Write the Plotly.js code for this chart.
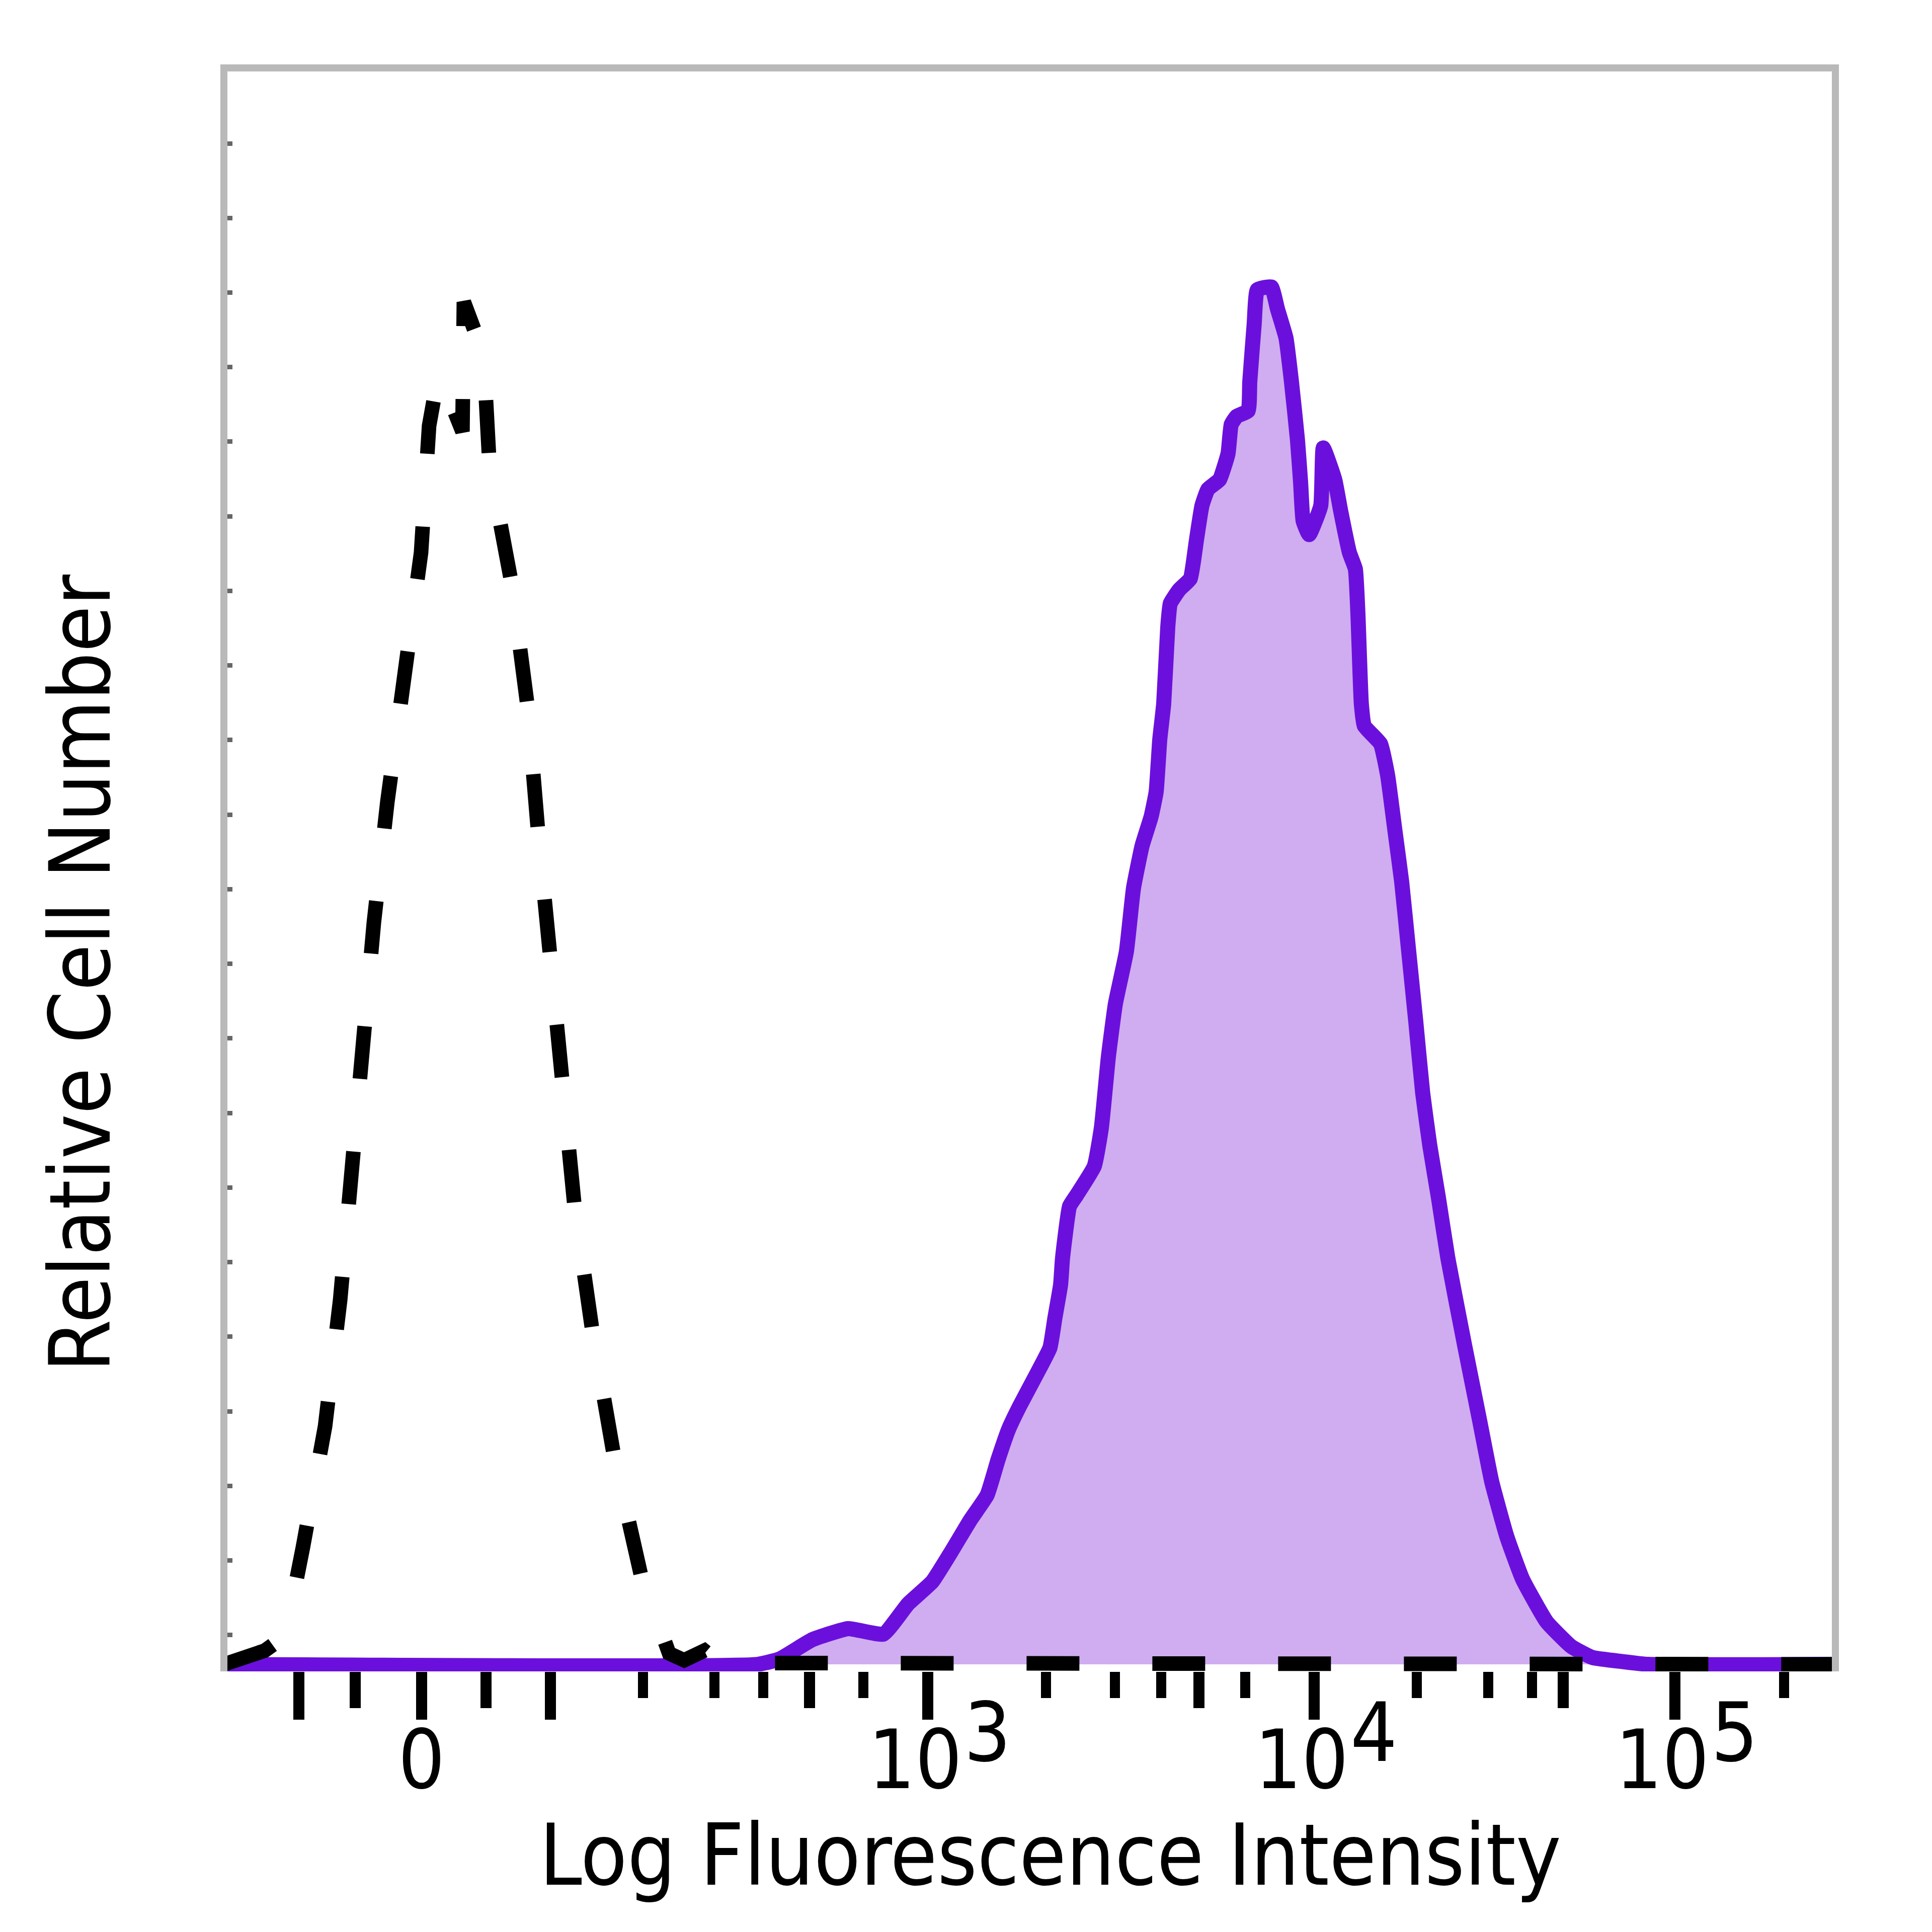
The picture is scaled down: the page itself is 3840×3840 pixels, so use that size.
<!DOCTYPE html>
<html>
<head>
<meta charset="utf-8">
<script src="https://cdn.plot.ly/plotly-3.0.1.min.js"></script>
<style>html,body{margin:0;padding:0;background:#fff;}#chart{width:3840px;height:3840px;}</style>
</head>
<body>
<div id="chart"></div>
<script>
// Display channels (0-1024) of the biexponential fluorescence scale
const isoX = [0, 16.0, 26.0, 34.5, 45.7, 50.2, 64.3, 73.9, 80.6, 87.9, 95.3, 103.9, 115.1, 125.3, 130.4, 136.5, 151.6, 152.5, 165.0, 168.8, 182.9, 193.1, 199.8, 208.1, 215.8, 222.8, 234.3, 247.8, 265.0, 282.9, 292.5, 300.5, 305.3, 314.9, 1024];
const isoY = [0, 0.6, 1.0, 1.7, 5.9, 8.5, 17.3, 26.5, 35.6, 44.8, 53.9, 62.7, 71.7, 80.8, 90.0, 93.9, 89.6, 99.0, 95.2, 87.1, 78.5, 69.5, 60.3, 51.4, 42.4, 33.3, 24.1, 15.2, 6.5, 0.8, 0.3, 0.7, 1.0, 0.1, 0];

const stainX = [0, 339.2, 353.3, 374.0, 396.7, 419.1, 434.8, 450.1, 462.3, 474.4, 485.0, 492.0, 498.7, 505.8, 516.0, 524.9, 528.1, 531.7, 532.9, 537.4, 541.9, 553.1, 557.6, 562.0, 566.5, 573.5, 578.0, 583.5, 589.2, 592.4, 594.7, 597.2, 599.8, 601.4, 607.1, 614.1, 618.0, 621.5, 625.3, 632.7, 638.1, 640.1, 643.6, 650.9, 651.9, 654.7, 656.7, 665.6, 669.5, 674.9, 678.4, 682.2, 684.2, 685.8, 689.6, 697.0, 698.6, 705.9, 709.7, 715.2, 719.0, 720.6, 722.8, 724.7, 735.0, 739.5, 743.9, 748.4, 752.9, 757.4, 761.8, 766.3, 771.8, 777.8, 788.4, 798.0, 805.6, 815.2, 825.2, 840.5, 856.2, 869.6, 889.1, 905, 1024];
const stainY = [0, 0, 0.4, 1.8, 2.6, 2.2, 4.4, 6.0, 8.2, 10.5, 12.3, 14.9, 17.1, 18.8, 21.0, 23.0, 25.2, 27.6, 29.5, 33.3, 34.1, 36.2, 39.0, 44.1, 48.0, 51.8, 56.4, 59.5, 61.6, 63.4, 67.2, 69.8, 75.4, 77.1, 78.1, 78.9, 81.7, 84.2, 85.4, 86.1, 88.0, 90.1, 90.7, 91.1, 93.2, 97.4, 99.9, 100.1, 98.5, 96.4, 93.2, 89.0, 85.9, 83.1, 82.1, 84.2, 88.4, 86.1, 83.8, 80.8, 79.6, 76.4, 69.8, 68.2, 66.9, 64.6, 60.8, 56.9, 51.8, 46.7, 41.5, 37.7, 33.9, 29.5, 23.2, 17.7, 13.3, 9.3, 6.2, 3.1, 1.3, 0.5, 0.2, 0, 0];

// Axis ticks (channel positions) and labels
const zeroTick = [125.6];
const zeroLabel = ['0'];
const decadeTicks = [447.3, 692.8, 922.0];
const decadeBase = ['10', '10', '10'];
const decadeExponents = ['3', '4', '5'];
const longTicks = [47.6, 207.5];
const mediumTicks = [83.4, 166.6, 372.1, 619.6, 851.0];
const minorTicks = [266.3, 311.7, 342.7, 406.3, 522.4, 566.2, 595.6, 649.0, 758.0, 803.4, 831.2, 991.4];

const xTitle = 'Log Fluorescence Intensity';
const yTitle = 'Relative Cell Number';

const FONT = '"DejaVu Sans Condensed", "DejaVu Sans", sans-serif';
const XRANGE = [2.24, 1021.8];
const TICKFONT = {family: FONT, size: 163, color: '#000'};

const traces = [
  {
    x: stainX, y: stainY, type: 'scatter', mode: 'lines',
    fill: 'tozeroy', fillcolor: '#CFADF0',
    line: {color: '#6B10DC', width: 30, shape: 'spline', smoothing: 0.4},
    hoverinfo: 'skip', showlegend: false
  },
  {
    x: isoX, y: isoY, type: 'scatter', mode: 'lines',
    line: {color: '#000000', width: 29, dash: '105px,145px', shape: 'linear'},
    hoverinfo: 'skip', showlegend: false
  }
];
// empty traces that attach the frame-top axis and the extra tick axes
['x2', 'x3', 'x4', 'x5'].forEach(ax => traces.push({x: [], y: [], type: 'scatter', mode: 'lines', xaxis: ax, yaxis: 'y', hoverinfo: 'skip', showlegend: false}));

// superscript exponents of the decade labels, placed at the decade ticks
const exponentNotes = decadeTicks.map((v, i) => ({
  text: decadeExponents[i], xref: 'x', x: v, yref: 'paper', y: 0,
  xanchor: 'left', yanchor: 'top', xshift: 70, yshift: -25,
  showarrow: false, font: TICKFONT
}));

const tickAxis = (vals, len, extra) => Object.assign({
  overlaying: 'x', anchor: 'y', side: 'bottom', range: XRANGE,
  showline: false, tickmode: 'array', tickvals: vals,
  ticks: 'outside', ticklen: len, tickwidth: 22, tickcolor: '#000',
  showticklabels: false, showgrid: false, zeroline: false
}, extra || {});

const layout = {
  width: 3840, height: 3840,
  margin: {l: 452, r: 199, t: 142, b: 518, pad: 0},
  paper_bgcolor: '#ffffff', plot_bgcolor: '#ffffff',
  showlegend: false,
  font: {family: FONT, size: 163, color: '#000'},
  xaxis: {
    range: XRANGE, showline: false, showgrid: false, zeroline: false,
    tickmode: 'array', tickvals: decadeTicks, ticktext: decadeBase,
    ticks: 'outside', ticklen: 95, tickwidth: 22, tickcolor: '#000',
    ticklabelstandoff: -60, ticklabelshift: -25,
    tickfont: TICKFONT,
    minor: {tickmode: 'array', tickvals: minorTicks, ticks: 'outside', ticklen: 52, tickwidth: 20, tickcolor: '#000', showgrid: false}
  },
  xaxis2: {
    overlaying: 'x', anchor: 'y', side: 'top', range: XRANGE,
    showline: true, linecolor: '#b9b9b9', linewidth: 14,
    ticks: '', showticklabels: false, showgrid: false, zeroline: false
  },
  xaxis3: tickAxis(mediumTicks, 72),
  xaxis4: tickAxis(longTicks, 95),
  xaxis5: tickAxis(zeroTick, 95, {ticktext: zeroLabel, showticklabels: true, ticklabelstandoff: -60, tickfont: TICKFONT}),
  yaxis: {
    range: [-0.51, 115.76], showline: true, linecolor: '#b9b9b9', linewidth: 14, mirror: true,
    ticks: 'inside', tickmode: 'linear', tick0: 110.53, dtick: 5.42,
    ticklen: 10, tickwidth: 9, tickcolor: '#666',
    showticklabels: false, showgrid: false, zeroline: false
  },
  annotations: exponentNotes.concat([
    {text: xTitle, xref: 'paper', yref: 'paper', x: 0.513, y: -0.1148, xanchor: 'center', yanchor: 'middle', showarrow: false, font: {family: FONT, size: 169, color: '#000'}},
    {text: yTitle, xref: 'paper', yref: 'paper', x: -0.0915, y: 0.4362, xanchor: 'center', yanchor: 'middle', textangle: -90, showarrow: false, font: {family: FONT, size: 167, color: '#000'}}
  ])
};

Plotly.newPlot('chart', traces, layout, {staticPlot: true, displayModeBar: false});
</script>
</body>
</html>
